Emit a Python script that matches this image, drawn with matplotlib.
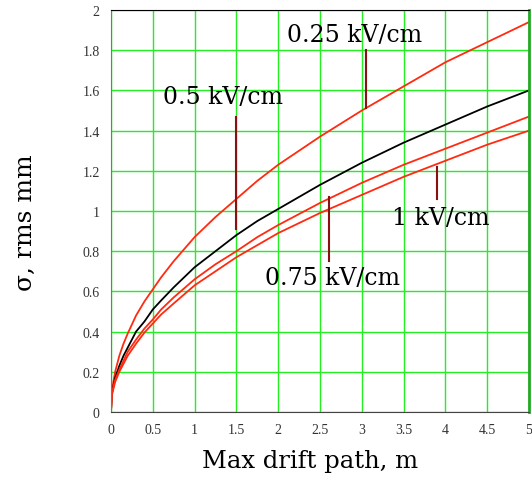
import numpy as np
import matplotlib
matplotlib.use("Agg")
import matplotlib.pyplot as plt

# drift path (m) and rms width sigma (mm)
drift = [0, 0.01, 0.02, 0.05, 0.1, 0.15, 0.2, 0.3, 0.4, 0.5, 0.6, 0.75, 1,
         1.25, 1.5, 1.75, 2, 2.5, 3, 3.5, 4, 4.5, 5]
sig_025 = [0, 0.10, 0.13, 0.20, 0.28, 0.34, 0.39, 0.48, 0.55, 0.61, 0.67, 0.75, 0.87,
           0.97, 1.06, 1.15, 1.23, 1.37, 1.50, 1.62, 1.74, 1.84, 1.94]
sig_050 = [0, 0.09, 0.11, 0.17, 0.23, 0.28, 0.32, 0.40, 0.45, 0.51, 0.555, 0.62, 0.72,
           0.80, 0.88, 0.95, 1.01, 1.13, 1.24, 1.34, 1.43, 1.52, 1.60]
sig_075 = [0, 0.09, 0.11, 0.16, 0.21, 0.255, 0.30, 0.36, 0.415, 0.46, 0.51, 0.57, 0.66,
           0.735, 0.80, 0.87, 0.93, 1.04, 1.14, 1.23, 1.31, 1.39, 1.47]
sig_100 = [0, 0.08, 0.10, 0.15, 0.20, 0.24, 0.28, 0.34, 0.395, 0.44, 0.485, 0.54, 0.63,
           0.70, 0.77, 0.83, 0.89, 0.99, 1.08, 1.17, 1.25, 1.33, 1.40]

# label text, text anchor (x, y), pointer segment (x, y0, y1)
labels = ["0.25 kV/cm", "0.5 kV/cm", "0.75 kV/cm", "1 kV/cm"]
label_xy = [(2.10, 1.88), (0.62, 1.57), (1.84, 0.67), (3.36, 0.97)]
pointers = [(3.05, 1.51, 1.80), (1.49, 0.91, 1.47), (2.61, 0.75, 1.07), (3.90, 1.06, 1.22)]

xticks = [0, 0.5, 1, 1.5, 2, 2.5, 3, 3.5, 4, 4.5, 5]
yticks = [0, 0.2, 0.4, 0.6, 0.8, 1, 1.2, 1.4, 1.6, 1.8, 2]

serif = ["DejaVu Serif"]
tick_font = ["Liberation Serif", "DejaVu Serif"]
red = "#ff2a10"
green = "#22ee22"

fig = plt.figure(figsize=(5.32, 4.81), dpi=100)
ax = fig.add_axes([0.2086, 0.1414, 0.7858, 0.8357])

ax.set_xlim(0, 5)
ax.set_ylim(0, 2)
ax.set_xticks(xticks)
ax.set_yticks(yticks)
ax.set_xticklabels([f"{v:g}" for v in xticks], family=tick_font, fontsize=10, color="#333333")
ax.set_yticklabels([f"{v:g}" for v in yticks], family=tick_font, fontsize=10, color="#333333")
ax.tick_params(length=0, pad=8)
ax.grid(True, color=green, lw=1.0)
ax.set_axisbelow(True)

ax.spines["left"].set_color("#777777")
ax.spines["bottom"].set_color("#444444")
ax.spines["top"].set_color("black")
ax.spines["right"].set_color("#22aa22")
ax.spines["right"].set_linewidth(2)

ax.plot(drift, sig_025, color=red, lw=1.3)
ax.plot(drift, sig_050, color="black", lw=1.3)
ax.plot(drift, sig_075, color=red, lw=1.3)
ax.plot(drift, sig_100, color=red, lw=1.3)

for txt, (tx, ty), (px, py0, py1) in zip(labels, label_xy, pointers):
    ax.plot([px, px], [py0, py1], color="#8b1010", lw=1.5)
    ax.text(tx, ty, txt, family=serif, fontsize=17, ha="left", va="center")

# axis titles placed in figure coords
fig.text(0.583, 0.040, "Max drift path, m", family=serif, fontsize=17.5,
         ha="center", va="center")
fig.text(0.047, 0.536, "σ, rms mm", family=serif, fontsize=18,
         ha="center", va="center", rotation=90)

fig.savefig("out.png", dpi=100)
